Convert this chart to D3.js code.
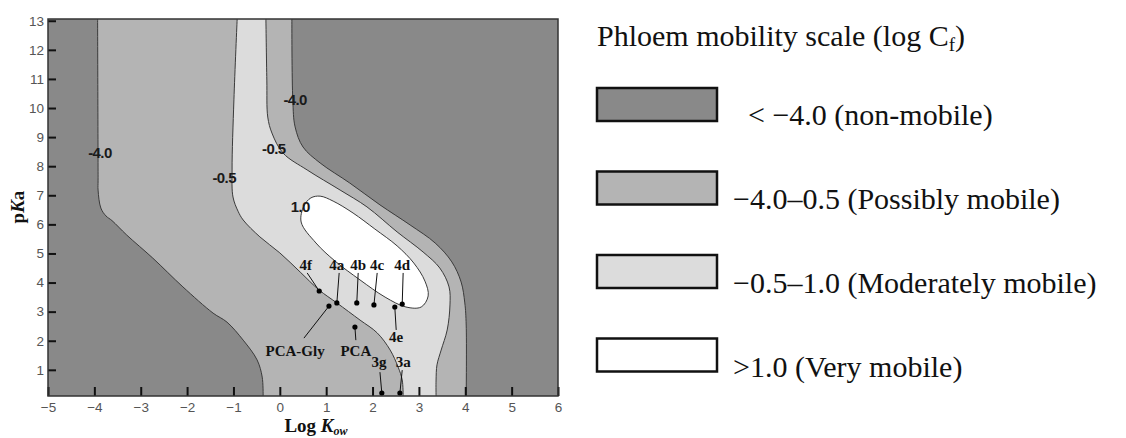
<!DOCTYPE html>
<html>
<head>
<meta charset="utf-8">
<script src="https://cdn.jsdelivr.net/npm/d3@7"></script>
<style>
body { margin: 0; background: #fff; }
</style>
</head>
<body>
<script>
// tick values
const xTicks = [-5, -4, -3, -2, -1, 0, 1, 2, 3, 4, 5, 6];
const yTicks = [1, 2, 3, 4, 5, 6, 7, 8, 9, 10, 11, 12, 13];

// contour lines, [log Kow, pKa], from top to bottom
const lineM4Left = [[-3.93, 13.06], [-3.92, 7.52], [-3.92, 7.18], [-3.86, 6.56], [-3.75, 6.29], [-3.62, 6.13],
  [-3.30, 5.63], [-2.74, 4.84], [-2.09, 3.85], [-1.44, 2.95], [-1.14, 2.64], [-0.79, 2.02], [-0.49, 1.34],
  [-0.38, 0.75], [-0.36, 0.1]];
const lineM4Right = [[0.26, 13.06], [0.28, 10.28], [0.33, 9.35], [0.50, 8.66], [0.87, 8.11], [1.51, 7.42],
  [2.16, 6.67], [2.81, 5.98], [3.35, 5.36], [3.71, 4.71], [3.91, 4.02], [3.99, 3.30], [4.02, 2.54], [4.02, 0.1]];
const lineM05Left = [[-0.92, 13.06], [-0.99, 10.28], [-1.03, 7.87], [-1.01, 6.94], [-0.90, 6.45], [-0.79, 6.15],
  [-0.43, 5.57], [0.00, 5.02], [0.44, 4.36], [0.85, 3.74], [1.23, 3.30], [1.73, 2.71], [2.10, 2.27], [2.38, 1.68],
  [2.55, 1.10], [2.64, 0.65], [2.66, 0.1]];
const lineM05Right = [[-0.30, 13.06], [-0.28, 10.96], [-0.26, 9.69], [-0.17, 9.14], [0.07, 8.45], [0.59, 7.87],
  [1.30, 7.18], [1.88, 6.60], [2.53, 5.74], [3.09, 5.05], [3.45, 4.50], [3.65, 3.85], [3.67, 3.23], [3.61, 2.37],
  [3.48, 1.68], [3.39, 1.17], [3.37, 0.65], [3.37, 0.1]];
const line10 = [[0.46, 6.08], [0.52, 6.63], [0.67, 6.91], [0.87, 6.97], [1.15, 6.80], [1.58, 6.39], [2.05, 5.84],
  [2.53, 5.26], [2.89, 4.67], [3.13, 4.05], [3.20, 3.54], [3.05, 3.16], [2.72, 3.16], [2.27, 3.50], [1.73, 4.09],
  [1.19, 4.74], [0.78, 5.36]];

// contour level labels
const contourLabels = [
  { text: "-4.0", x: -3.88, y: 8.45 },
  { text: "-4.0", x: 0.33, y: 10.28 },
  { text: "-0.5", x: -0.13, y: 8.59 },
  { text: "-0.5", x: -1.20, y: 7.59 },
  { text: "1.0", x: 0.44, y: 6.60 }
];

// compounds: dot, label and start of the leader line
const compounds = [
  { name: "4f", x: 0.85, y: 3.71, lx: 0.56, ly: 4.43, tx: 0.59, ty: 4.33 },
  { name: "4a", x: 1.23, y: 3.30, lx: 1.23, ly: 4.43, tx: 1.28, ty: 4.33 },
  { name: "4b", x: 1.66, y: 3.30, lx: 1.69, ly: 4.43, tx: 1.69, ty: 4.33 },
  { name: "4c", x: 2.03, y: 3.23, lx: 2.10, ly: 4.43, tx: 2.10, ty: 4.33 },
  { name: "4d", x: 2.64, y: 3.26, lx: 2.64, ly: 4.43, tx: 2.66, ty: 4.33 },
  { name: "4e", x: 2.48, y: 3.16, lx: 2.51, ly: 1.96, tx: 2.51, ty: 2.37 },
  { name: "PCA-Gly", x: 1.06, y: 3.19, lx: 0.33, ly: 1.47, tx: 0.52, ty: 2.09 },
  { name: "PCA", x: 1.62, y: 2.47, lx: 1.64, ly: 1.47, tx: 1.64, ty: 2.02 },
  { name: "3g", x: 2.20, y: 0.20, lx: 2.14, ly: 1.10, tx: 2.16, ty: 0.92 },
  { name: "3a", x: 2.59, y: 0.20, lx: 2.66, ly: 1.10, tx: 2.64, ty: 0.99 }
];

const legendLabels = ["< \u22124.0 (non-mobile)", "\u22124.0\u20130.5 (Possibly mobile)",
  "\u22120.5\u20131.0 (Moderately mobile)", ">1.0 (Very mobile)"];
const legendColors = ["#898989", "#b4b4b4", "#dcdcdc", "#ffffff"];

const svg = d3.select("body").append("svg").attr("width", 1126).attr("height", 438);

const x = d3.scaleLinear().domain([-5, 6]).range([48, 558]);
const y = d3.scaleLinear().domain([0.1, 13.06]).range([396, 19]);

const line = d3.line().x(d => x(d[0])).y(d => y(d[1])).curve(d3.curveCatmullRom.alpha(0.5));
const loop = d3.line().x(d => x(d[0])).y(d => y(d[1])).curve(d3.curveCatmullRomClosed.alpha(0.5));
// region between two top-to-bottom lines
const band = (a, b) => line(a) + line(b.slice().reverse()).replace(/^M/, "L") + "Z";

svg.append("clipPath").attr("id", "plot").append("rect")
  .attr("x", 48).attr("y", 19).attr("width", 510).attr("height", 377);

const plot = svg.append("g").attr("clip-path", "url(#plot)");

plot.append("rect").attr("x", 48).attr("y", 19).attr("width", 510).attr("height", 377)
  .style("fill", legendColors[0]);
plot.append("path").attr("d", band(lineM4Left, lineM4Right)).style("fill", legendColors[1]);
plot.append("path").attr("d", band(lineM05Left, lineM05Right)).style("fill", legendColors[2]);
plot.append("path").attr("d", loop(line10)).style("fill", legendColors[3]);

plot.selectAll("path.contour")
  .data([lineM4Left, lineM4Right, lineM05Left, lineM05Right]).enter().append("path")
  .attr("class", "contour")
  .attr("d", line)
  .style("fill", "none").style("stroke", "#3a3a3a").style("stroke-width", 1);
plot.append("path").attr("d", loop(line10))
  .style("fill", "none").style("stroke", "#3a3a3a").style("stroke-width", 1);

plot.selectAll("text.level").data(contourLabels).enter().append("text")
  .attr("class", "level")
  .attr("x", d => x(d.x)).attr("y", d => y(d.y))
  .attr("text-anchor", "middle").attr("dy", "0.35em")
  .style("font-family", "'Liberation Sans', Arial, sans-serif")
  .style("font-size", "15px").style("font-weight", "bold").style("letter-spacing", "-0.6px")
  .style("fill", "#1a1a1a")
  .text(d => d.text);

// compound markers
plot.selectAll("line.leader").data(compounds).enter().append("line")
  .attr("class", "leader")
  .attr("x1", d => x(d.tx)).attr("y1", d => y(d.ty))
  .attr("x2", d => x(d.x)).attr("y2", d => y(d.y))
  .style("stroke", "#111").style("stroke-width", 1);
plot.selectAll("circle").data(compounds).enter().append("circle")
  .attr("cx", d => x(d.x)).attr("cy", d => y(d.y)).attr("r", 2.6)
  .style("fill", "#000");
plot.selectAll("text.cmp").data(compounds).enter().append("text")
  .attr("class", "cmp")
  .attr("x", d => x(d.lx)).attr("y", d => y(d.ly))
  .attr("text-anchor", "middle")
  .style("font-family", "'Liberation Serif', 'Times New Roman', serif")
  .style("font-size", "15px").style("font-weight", "bold")
  .style("fill", "#111")
  .text(d => d.name);

// axes, ticks pointing inward
const xAxis = svg.append("g").attr("transform", "translate(0,396)")
  .call(d3.axisBottom(x).tickValues(xTicks).tickSize(-9).tickPadding(6).tickFormat(d3.format("d")));
const yAxis = svg.append("g").attr("transform", "translate(48,0)")
  .call(d3.axisLeft(y).tickValues(yTicks).tickSize(-8).tickPadding(4).tickFormat(d3.format("d")));

[xAxis, yAxis].forEach(a => {
  a.select(".domain").remove();
  a.selectAll(".tick line").style("stroke", "#111").style("stroke-width", 2);
  a.selectAll(".tick text")
    .style("font-family", "'Liberation Sans', Arial, sans-serif")
    .style("font-size", "13.5px").style("fill", "#555");
});

svg.append("rect").attr("x", 48).attr("y", 19).attr("width", 510).attr("height", 377)
  .style("fill", "none").style("stroke", "#333").style("stroke-width", 1.5);

// axis titles
const xTitle = svg.append("text").attr("x", 316).attr("y", 432).attr("text-anchor", "middle")
  .style("font-family", "'Liberation Serif', 'Times New Roman', serif")
  .style("font-size", "19px").style("font-weight", "bold").style("fill", "#111");
xTitle.append("tspan").text("Log ");
xTitle.append("tspan").style("font-style", "italic").text("K");
xTitle.append("tspan").attr("dy", 3).style("font-size", "12px").style("font-style", "italic").text("ow");

const yTitle = svg.append("text").attr("transform", "translate(24,207) rotate(-90)")
  .attr("text-anchor", "middle")
  .style("font-family", "'Liberation Serif', 'Times New Roman', serif")
  .style("font-size", "19px").style("font-weight", "bold").style("fill", "#111");
yTitle.append("tspan").text("p");
yTitle.append("tspan").style("font-style", "italic").text("K");
yTitle.append("tspan").text("a");

// legend
const legend = svg.append("g")
  .style("font-family", "'Liberation Serif', 'Times New Roman', serif")
  .style("fill", "#111");

const title = legend.append("text").attr("x", 597).attr("y", 46).style("font-size", "30px");
title.append("tspan").text("Phloem mobility scale (log C");
title.append("tspan").attr("dy", 5).style("font-size", "19px").text("f");
title.append("tspan").attr("dy", -5).text(")");

legend.selectAll("rect").data(legendColors).enter().append("rect")
  .attr("x", 597).attr("y", (d, i) => 88 + i * 83.5)
  .attr("width", 120).attr("height", 33)
  .style("fill", d => d).style("stroke", "#111").style("stroke-width", 2.5);

legend.selectAll("text.item").data(legendLabels).enter().append("text")
  .attr("class", "item")
  .attr("x", (d, i) => i === 0 ? 748 : 733)
  .attr("y", (d, i) => 125 + i * 84)
  .style("font-size", "30px")
  .text(d => d);
</script>
</body>
</html>
